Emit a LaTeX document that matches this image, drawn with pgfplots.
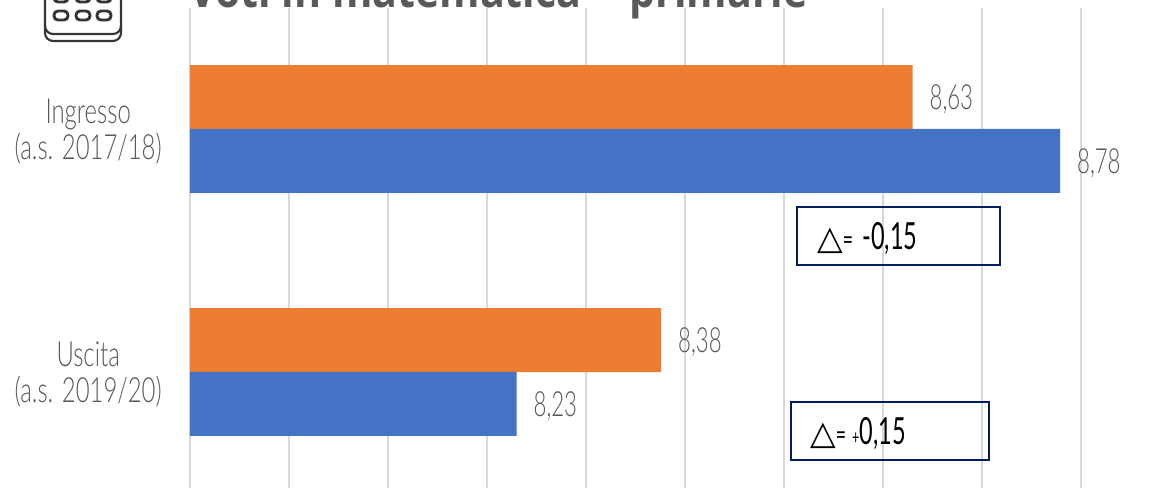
\documentclass[border=0pt]{standalone}
\usepackage{fontspec}
\setmainfont{Lato Light}[FakeStretch=0.64]
\newfontfamily\catfont{Lato Light}[FakeStretch=0.69]
\newfontfamily\boxfont{Lato}[FakeStretch=0.63]
\newfontfamily\titlefont{Open Sans}[FakeStretch=0.858]
\newfontfamily\symfont{DejaVu Sans}
\usepackage{pgfplots}
\pgfplotsset{compat=1.18}
\definecolor{barorange}{HTML}{ED7D31}
\definecolor{barblue}{HTML}{4472C4}
\definecolor{gridgray}{HTML}{D9D9D9}
\definecolor{labgray}{HTML}{595959}
\definecolor{boxnavy}{HTML}{002060}

\begin{document}
\begin{tikzpicture}
% page is 1168x487 px, 1 px = 0.75pt
\path[use as bounding box] (0pt,0pt) rectangle (876pt,-365.25pt);
\clip (0pt,0pt) rectangle (876pt,-365.25pt);
\begin{axis}[
  at={(142.5pt,-370.125pt)}, anchor=south west,
  scale only axis,
  width=668.25pt,
  height=364.5pt,
  xbar,
  xmin=7.9, xmax=8.8,
  ymin=-0.5, ymax=1.5,
  xtick={7.9,8.0,...,8.8},
  xticklabels={},
  ytick={0,1},
  yticklabels={Uscita\\(a.s. 2019/20),Ingresso\\(a.s. 2017/18)},
  yticklabel style={font=\catfont\fontsize{26}{27}\selectfont, text=labgray, align=center, inner sep=0pt, xshift=-21pt, yshift=-1.8pt},
  major tick length=0pt,
  xmajorgrids,
  grid style={gridgray, line width=1.5pt},
  axis line style={draw=none},
  point meta=explicit symbolic,
  nodes near coords,
  every node near coord/.append style={font=\fontsize{26}{28}\selectfont, text=labgray, anchor=west, inner sep=0pt, xshift=12.5pt, yshift=-1.5pt},
]
\addplot[fill=barorange, draw=none, bar width=47.9pt, bar shift=23.9pt]
  coordinates {(8.376,0)[8,38] (8.63,1)[8,63]};
\addplot[fill=barblue, draw=none, bar width=47.9pt, bar shift=-23.9pt]
  coordinates {(8.23,0)[8,23] (8.779,1)[8,78]};
\end{axis}
\begin{scope}[x=0.75pt,y=-0.75pt]
% boxes
\draw[boxnavy, line width=1.5pt, fill=none] (797,207) rectangle (1000,265);
\draw[boxnavy, line width=1.5pt, fill=none] (790.5,402) rectangle (989,460);
\node[anchor=west, inner sep=0pt, text=black, font=\boxfont\fontsize{28}{30}\selectfont] at (817,238) {{\symfont\fontsize{25}{26}\selectfont △}{\fontsize{21}{20}\selectfont =}\ \kern2.5pt-0,15};
\node[anchor=west, inner sep=0pt, text=black, font=\boxfont\fontsize{28}{30}\selectfont] at (810,433) {{\symfont\fontsize{25}{26}\selectfont △}{\fontsize{21}{20}\selectfont =}\ {\fontsize{15}{20}\selectfont +}0,15};
% title
\node[anchor=base west, inner sep=0pt, text=labgray, font=\titlefont\bfseries\fontsize{36}{40}\selectfont] at (189,7) {Voti in matematica -- primarie};
% calculator icon
\draw[labgray!60!black, line width=1.6pt, rounded corners=6pt] (45,-30) rectangle (121,34);
\draw[labgray!60!black, line width=1.6pt, rounded corners=6pt] (45,25) -- (45,41) -- (121,41) -- (121,25);
\foreach \k in {61,83,104}{
  \draw[labgray!60!black, line width=2.2pt, rounded corners=3pt] (\k-7,11) rectangle (\k+7,20);
  \draw[labgray!60!black, line width=2.2pt, rounded corners=3pt] (\k-7,-6) rectangle (\k+7,2);
}
\end{scope}
\end{tikzpicture}
\end{document}
